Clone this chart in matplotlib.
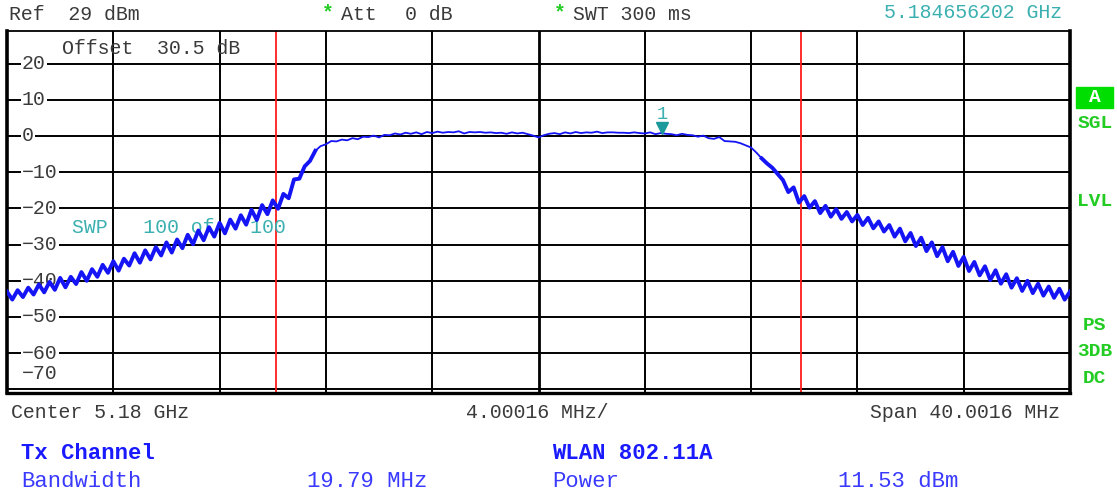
import numpy as np
import matplotlib
matplotlib.use("Agg")
import matplotlib.pyplot as plt
import matplotlib.transforms as mtransforms

# Spectrum trace, dBm, 0.2 MHz steps from -20 MHz to +20 MHz around 5.18 GHz
trace_dbm = [
    -43.0, -45.2, -42.6, -44.5, -41.9, -43.8, -41.0, -43.2, -40.3, -42.5,
    -39.2, -41.8, -38.9, -40.9, -37.6, -40.0, -36.8, -38.9, -35.6, -37.8,
    -34.6, -37.2, -33.9, -35.8, -32.4, -35.0, -31.6, -34.1, -30.7, -33.0,
    -29.4, -32.2, -28.6, -31.0, -27.3, -29.9, -26.1, -28.8, -25.2, -27.8,
    -24.0, -26.9, -23.1, -25.6, -21.9, -24.5, -20.4, -23.2, -19.1, -21.6,
    -17.8, -20.1, -16.0, -17.2, -12.0, -11.8, -8.4, -6.9, -4.1, -2.8,
    -2.3, -1.4, -1.5, -1.0, -1.2, -0.6, -0.9, -0.2, -0.3, 0.1,
    -0.4, 0.3, 0.2, 0.7, 0.4, 0.9, 0.6, 1.0, 0.5, 1.1,
    0.8, 1.2, 0.9, 1.1, 1.0, 1.3, 0.7, 1.1, 1.0, 1.1,
    0.9, 1.0, 0.8, 0.9, 0.6, 1.0, 0.7, 0.9, 0.5, 0.1,
    -0.4, 0.2, 0.6, 0.8, 0.5, 1.0, 0.7, 1.1, 0.8, 1.0,
    0.9, 1.2, 0.8, 1.0, 1.0, 0.9, 0.9, 0.8, 1.0, 0.8,
    0.7, 1.0, 0.5, 0.8, 0.6, 0.5, 0.2, 0.6, 0.3, 0.2,
    -0.2, 0.1, -0.6, -0.8, -0.3, -1.4, -1.5, -1.6, -2.0, -2.6,
    -3.2, -4.6, -6.2, -7.6, -8.8, -10.5, -12.2, -15.5, -14.2, -18.4,
    -16.6, -19.8, -18.0, -21.3, -19.3, -22.3, -20.2, -22.9, -21.0, -23.6,
    -21.8, -24.6, -22.6, -25.5, -23.6, -26.4, -24.6, -27.8, -25.6, -29.1,
    -26.8, -30.4, -28.1, -31.8, -29.4, -33.2, -30.7, -34.6, -32.0, -35.9,
    -33.4, -37.3, -34.8, -38.5, -36.0, -39.8, -37.1, -40.8, -38.2, -41.9,
    -39.3, -42.8, -40.0, -43.4, -40.8, -44.1, -41.6, -44.7, -42.2, -45.2,
    -43.0,
]
span_mhz = 40.0016
ref_level = 29
range_db = 100
channel_bw = 19.79
marker_freq = 4.656202
marker_level = 0.7
y_ticks = [20, 10, 0, -10, -20, -30, -40, -50, -60, -70]

freq = np.linspace(-span_mhz / 2, span_mhz / 2, len(trace_dbm))
trace = np.array(trace_dbm)

W, H = 1117, 494
MONO = "Liberation Mono"
GREY = "#3a3a3a"
TEAL = "#3cb0b0"
GREEN = "#22cc22"
FS = 14.3


def px(x, y):
    return x / W, 1 - y / H


fig = plt.figure(figsize=(W / 100, H / 100), dpi=100)
l, t = px(7, 31)
r, b = px(1070, 393)
ax = fig.add_axes([l, b, r - l, t - b])
ax.set_xlim(-span_mhz / 2, span_mhz / 2)
ax.set_ylim(ref_level - range_db, ref_level)
ax.set_xticks([])
ax.set_yticks([])
for side, lw in [("left", 2.6), ("right", 2.6), ("bottom", 2.4), ("top", 1.3)]:
    ax.spines[side].set_linewidth(lw)
    ax.spines[side].set_color("black")

# grid
div = span_mhz / 10
for i in range(1, 10):
    ax.axvline(-span_mhz / 2 + i * div, color="black",
               lw=2.0 if i == 5 else 1.4, zorder=1)
for yv in y_ticks:
    ax.axhline(yv, color="black", lw=1.4, zorder=1)

# channel limits
for xv in (-channel_bw / 2, channel_bw / 2):
    ax.axvline(xv, color="#ff1a1a", lw=1.3, zorder=2)

# y labels inside the frame
ytr = mtransforms.blended_transform_factory(ax.transAxes, ax.transData)
for yv in y_ticks:
    ypos = yv + 4.5 if yv == -70 else yv
    lab = str(yv).replace("-", "\u2212")
    ax.text(15 / (1070 - 7), ypos, lab, transform=ytr, ha="left", va="center",
            family=MONO, fontsize=FS, color=GREY, zorder=3,
            bbox=dict(fc="white", ec="none", pad=1.0))

ax.text(*px(62, 48), "Offset  30.5 dB", transform=fig.transFigure,
        ha="left", va="center", family=MONO, fontsize=FS, color=GREY, zorder=3)
ax.text(*px(72, 227), "SWP   100 of   100", transform=fig.transFigure,
        ha="left", va="center", family=MONO, fontsize=FS, color=TEAL, zorder=3)

# trace: thin in the channel, heavier where the skirts are noisy
ax.plot(freq, trace, color="#1414f5", lw=1.3, zorder=4)
skirt = np.abs(freq) >= 8.4
for mask in (skirt & (freq < 0), skirt & (freq > 0)):
    ax.plot(freq[mask], trace[mask], color="#1414f5", lw=2.8, zorder=4)

# marker 1
mk = mtransforms.offset_copy(ax.transData, fig=fig, x=0, y=5, units="dots")
ax.plot([marker_freq], [marker_level], marker="v", ms=9, color="#1a9a9a",
        transform=mk, zorder=5)
lk = mtransforms.offset_copy(ax.transData, fig=fig, x=0, y=19, units="dots")
ax.text(marker_freq, marker_level, "1", transform=lk, ha="center", va="center",
        family=MONO, fontsize=13.5, color=TEAL, zorder=5)

# header
hdr = dict(family=MONO, fontsize=FS, va="center")
fig.text(*px(9, 14), "Ref  29 dBm", color=GREY, **hdr)
fig.text(*px(322, 13), "*", color=GREEN, fontweight="bold", **hdr)
fig.text(*px(341, 14), "Att", color=GREY, **hdr)
fig.text(*px(405, 14), "0 dB", color=GREY, **hdr)
fig.text(*px(554, 13), "*", color=GREEN, fontweight="bold", **hdr)
fig.text(*px(573, 14), "SWT 300 ms", color=GREY, **hdr)
fig.text(*px(1062, 13), "5.184656202 GHz", color=TEAL, ha="right", **hdr)

# right side status labels
side = dict(family=MONO, fontsize=14, fontweight="bold", color=GREEN,
            ha="center", va="center")
fig.patches.append(plt.Rectangle(px(1076, 108), 37 / W, 21 / H,
                                 transform=fig.transFigure, color="#00dd00"))
fig.text(*px(1095, 98), "A", **{**side, "color": "white"})
for lab, yy in [("SGL", 124), ("LVL", 201), ("PS", 326), ("3DB", 352), ("DC", 378)]:
    fig.text(*px(1095, yy), lab, **side)

# footer
fig.text(*px(11, 413), "Center 5.18 GHz", color=GREY, **hdr)
fig.text(*px(466, 413), "4.00016 MHz/", color=GREY, **hdr)
fig.text(*px(1060, 413), "Span 40.0016 MHz", color=GREY, ha="right", **hdr)

bold_blue = dict(family=MONO, fontsize=16, fontweight="bold", color="#1a1aff",
                 va="center")
fig.text(*px(21, 453), "Tx Channel", **bold_blue)
fig.text(*px(552, 453), "WLAN 802.11A", **bold_blue)
blue = dict(family=MONO, fontsize=16, color="#3a3aff", va="center")
fig.text(*px(21, 481), "Bandwidth", **blue)
fig.text(*px(307, 481), "19.79 MHz", **blue)
fig.text(*px(552, 481), "Power", **blue)
fig.text(*px(838, 481), "11.53 dBm", **blue)

fig.savefig("out.png", dpi=100, facecolor="white")
